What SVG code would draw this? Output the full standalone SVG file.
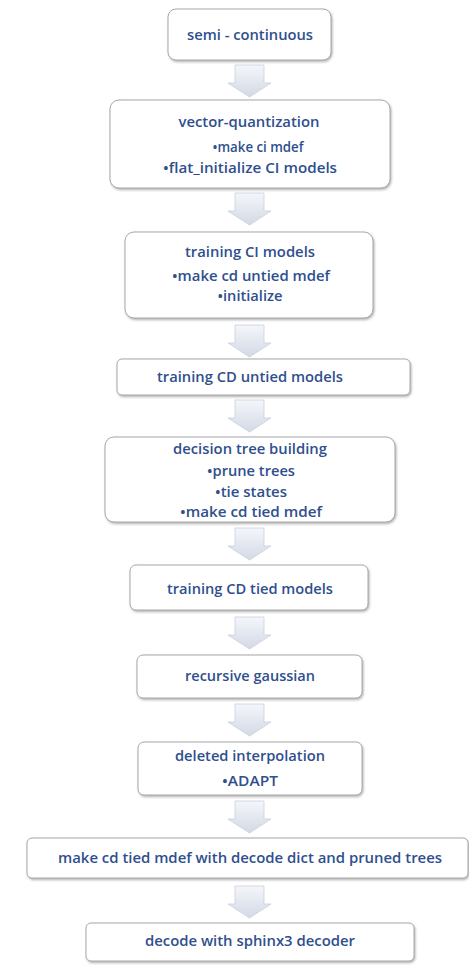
<svg xmlns="http://www.w3.org/2000/svg" width="469" height="965" viewBox="0 0 469 965">
  <defs>
    <linearGradient id="arrowFill" x1="0" y1="0" x2="0" y2="1">
      <stop offset="0" stop-color="#f4f6fa"/>
      <stop offset="1" stop-color="#d3d9e6"/>
    </linearGradient>
    <filter id="shadow" x="-5%" y="-10%" width="110%" height="130%">
      <feDropShadow dx="1" dy="1.5" stdDeviation="1" flood-color="#707070" flood-opacity="0.55"/>
    </filter>
    <path id="arrow" d="M-14.5,0 H14.5 V18 H21.5 L0,32 L-21.5,18 H-14.5 Z"/>
  </defs>
  <style>
    .box { fill: #ffffff; stroke: #a8a8a8; stroke-width: 1; filter: url(#shadow); }
    .arr { fill: url(#arrowFill); stroke: #c9cfdc; stroke-width: 0.8; }
    text { font-family: "Open Sans", "Liberation Sans", sans-serif; font-weight: 600; font-size: 13.5px; fill: #2f4f8e; text-anchor: middle; }
  </style>

  <!-- connectors: block arrows between stages -->
  <g id="connectors">
    <use href="#arrow" class="arr" x="249.5" y="65"/>
    <use href="#arrow" class="arr" x="249.5" y="193"/>
    <use href="#arrow" class="arr" x="249.5" y="325"/>
    <use href="#arrow" class="arr" x="249.5" y="400"/>
    <use href="#arrow" class="arr" x="249.5" y="528"/>
    <use href="#arrow" class="arr" x="249.5" y="617"/>
    <use href="#arrow" class="arr" x="249.5" y="704"/>
    <use href="#arrow" class="arr" x="249.5" y="801"/>
    <use href="#arrow" class="arr" x="249.5" y="886"/>
  </g>

  <g id="semi-continuous">
    <rect class="box" x="168" y="9" width="163" height="51" rx="8"/>
    <text x="250" y="40" textLength="126" lengthAdjust="spacingAndGlyphs">semi - continuous</text>
  </g>

  <g id="vector-quantization">
    <rect class="box" x="110" y="100" width="280" height="88" rx="9"/>
    <text x="249" y="127" textLength="141" lengthAdjust="spacingAndGlyphs">vector-quantization</text>
    <text x="258" y="152" textLength="91" lengthAdjust="spacingAndGlyphs">•make ci mdef</text>
    <text x="250" y="173" textLength="174" lengthAdjust="spacingAndGlyphs">•flat_initialize CI models</text>
  </g>

  <g id="training-ci">
    <rect class="box" x="125" y="232" width="248" height="86" rx="9"/>
    <text x="250" y="257" textLength="130" lengthAdjust="spacingAndGlyphs">training CI models</text>
    <text x="251" y="281" textLength="158" lengthAdjust="spacingAndGlyphs">•make cd untied mdef</text>
    <text x="250" y="301" textLength="65" lengthAdjust="spacingAndGlyphs">•initialize</text>
  </g>

  <g id="training-cd-untied">
    <rect class="box" x="117" y="359" width="293" height="36" rx="5"/>
    <text x="250" y="382" textLength="186" lengthAdjust="spacingAndGlyphs">training CD untied models</text>
  </g>

  <g id="decision-tree">
    <rect class="box" x="105" y="437" width="290" height="85" rx="9"/>
    <text x="250" y="454" textLength="154" lengthAdjust="spacingAndGlyphs">decision tree building</text>
    <text x="251" y="476" textLength="88" lengthAdjust="spacingAndGlyphs">•prune trees</text>
    <text x="251" y="497" textLength="72" lengthAdjust="spacingAndGlyphs">•tie states</text>
    <text x="251" y="517" textLength="142" lengthAdjust="spacingAndGlyphs">•make cd tied mdef</text>
  </g>

  <g id="training-cd-tied">
    <rect class="box" x="130" y="565" width="238" height="45" rx="6"/>
    <text x="250" y="594" textLength="166" lengthAdjust="spacingAndGlyphs">training CD tied models</text>
  </g>

  <g id="recursive-gaussian">
    <rect class="box" x="137" y="655" width="225" height="43" rx="6"/>
    <text x="250" y="681" textLength="130" lengthAdjust="spacingAndGlyphs">recursive gaussian</text>
  </g>

  <g id="deleted-interpolation">
    <rect class="box" x="138" y="742" width="224" height="53" rx="6"/>
    <text x="250" y="761" textLength="150" lengthAdjust="spacingAndGlyphs">deleted interpolation</text>
    <text x="250" y="786" textLength="56" lengthAdjust="spacingAndGlyphs">•ADAPT</text>
  </g>

  <g id="make-cd-tied-decode">
    <rect class="box" x="27" y="838" width="441" height="40" rx="5"/>
    <text x="250" y="863" textLength="384" lengthAdjust="spacingAndGlyphs">make cd tied mdef with decode dict and pruned trees</text>
  </g>

  <g id="decode-sphinx3">
    <rect class="box" x="86" y="923" width="328" height="38" rx="5"/>
    <text x="250" y="946" textLength="210" lengthAdjust="spacingAndGlyphs">decode with sphinx3 decoder</text>
  </g>
</svg>
